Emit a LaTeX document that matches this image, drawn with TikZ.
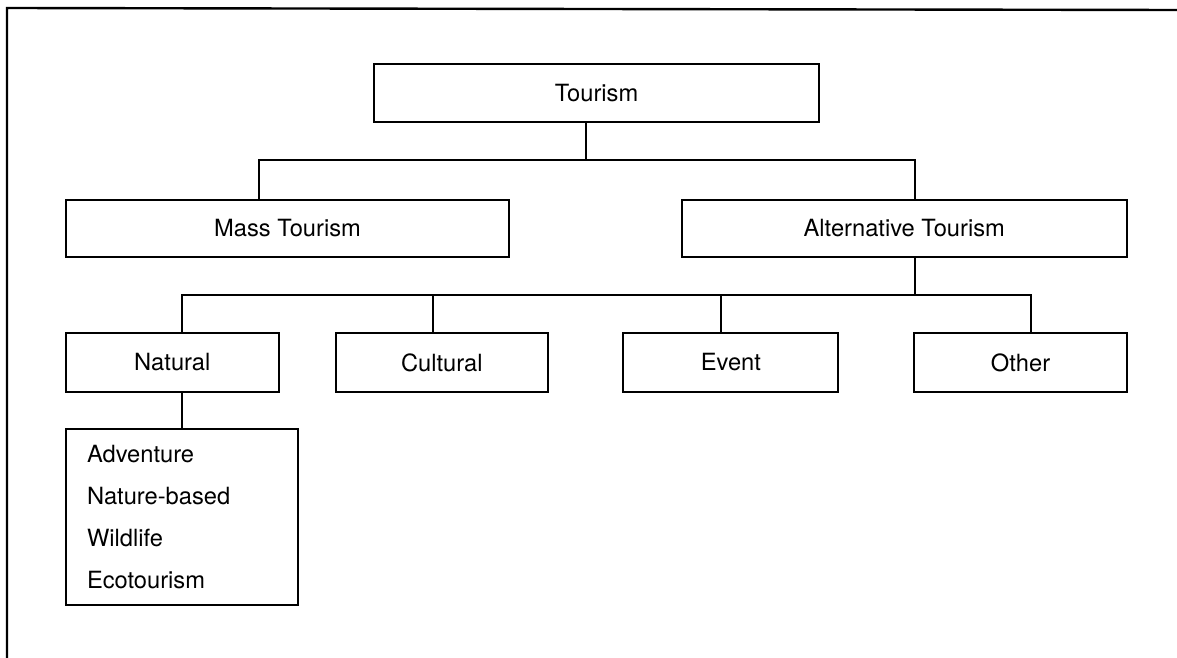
\documentclass[tikz,border=0pt]{standalone}
\usepackage{fontspec}
\setmainfont{TeX Gyre Heros}
\begin{document}
\begin{tikzpicture}[x=0.5pt,y=-0.5pt,
  box/.style={draw, line width=1pt, inner sep=0pt, outer sep=0pt, minimum height=29pt,
    font=\fontsize{11.85}{14}\selectfont},
  link/.style={line width=1pt, line cap=rect}]
\useasboundingbox (0,0) rectangle (1177,658);
\fill[white] (0,0) rectangle (1177,658);
% frame
\draw[line width=1.2pt] (7,658) -- (7,8) -- (1177,10);
% nodes
\node[box, minimum width=222.5pt] (tour) at (596.5,93) {Tourism};
\node[box, minimum width=221.5pt, minimum height=28.5pt] (mass) at (287.5,228.5) {Mass Tourism};
\node[box, minimum width=222.75pt, minimum height=28.5pt] (alt) at (904.25,228.5) {Alternative Tourism};
\node[box, minimum width=106.3pt, minimum height=29.5pt] (nat) at (172.3,362.5) {Natural};
\node[box, minimum width=106.2pt, minimum height=29.5pt] (cul) at (441.8,362.5) {Cultural};
\node[box, minimum width=107.5pt, minimum height=29.5pt] (evt) at (730.85,362.5) {Event};
\node[box, minimum width=106.75pt, minimum height=29.5pt] (oth) at (1020.55,362.5) {Other};
\node[box, minimum height=88pt, inner xsep=10.5pt, text width=94.75pt, align=left,
  font=\fontsize{11.85}{20.85}\selectfont] (sub) at (181.75,517)
  {Adventure\\Nature-based\\Wildlife\\Ecotourism};
% junctions
\coordinate (j1) at (586,160);
\coordinate (b1L) at (259,160);
\coordinate (b1R) at (914.5,160);
\coordinate (j2) at (914.5,295);
\coordinate (cN) at (181.8,295);
\coordinate (cC) at (432.5,295);
\coordinate (cE) at (720.5,295);
\coordinate (cO) at (1030.5,295);
% connectors
\draw[link] (tour.south -| j1) -- (j1);
\draw[link] (mass.north -| b1L) -- (b1L) -- (b1R) -- (alt.north -| b1R);
\draw[link] (alt.south -| j2) -- (j2);
\draw[link] (nat.north -| cN) -- (cN) -- (cO) -- (oth.north -| cO);
\draw[link] (cC) -- (cul.north -| cC);
\draw[link] (cE) -- (evt.north -| cE);
\draw[link] (nat.south -| cN) -- (sub.north -| cN);
\end{tikzpicture}
\end{document}
